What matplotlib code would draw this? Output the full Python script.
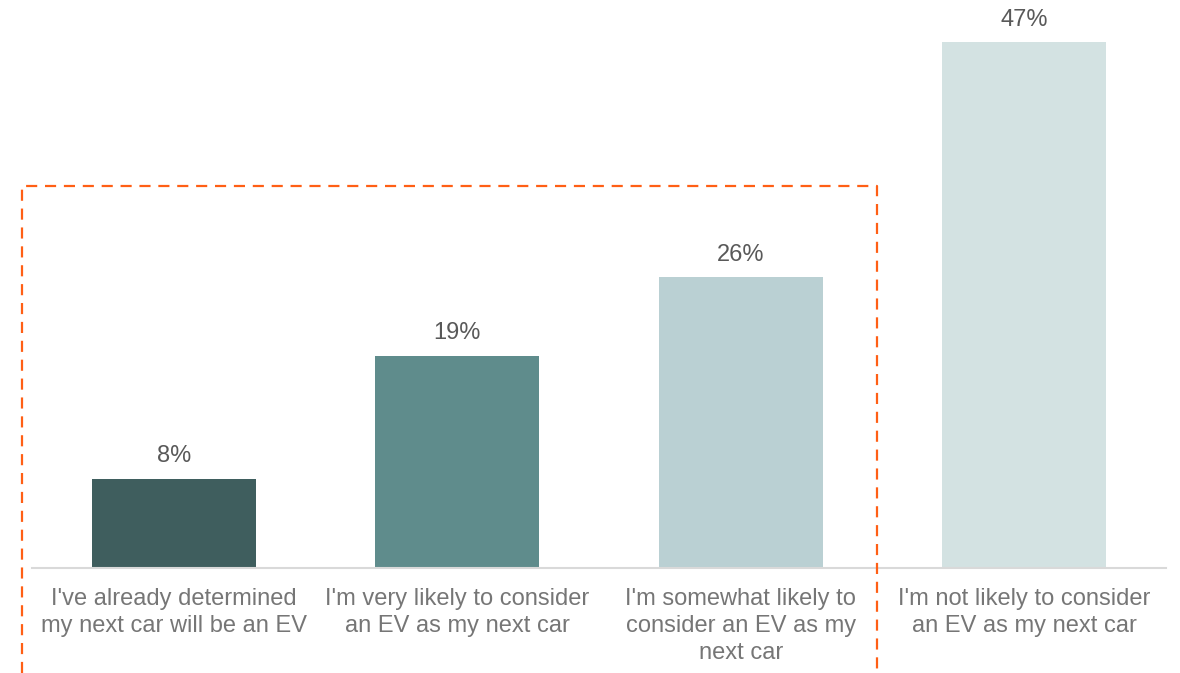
import matplotlib
matplotlib.use("Agg")
import matplotlib.pyplot as plt
from matplotlib.lines import Line2D

categories = [
    "I've already determined\nmy next car will be an EV",
    "I'm very likely to consider\nan EV as my next car",
    "I'm somewhat likely to\nconsider an EV as my\nnext car",
    "I'm not likely to consider\nan EV as my next car",
]
values = [8, 19, 26, 47]
colors = ["#3F5E5E", "#5F8C8C", "#BAD0D3", "#D3E2E2"]

plt.rcParams["font.family"] = ["Liberation Sans", "DejaVu Sans"]

W, H = 1180, 673
fig = plt.figure(figsize=(W / 100, H / 100), dpi=100)
ax = fig.add_axes([32 / W, (H - 568) / H, (1166 - 32) / W, 568 / H])

x = range(len(values))
bars = ax.bar(x, values, width=0.58, color=colors)
for b, v in zip(bars, values):
    ax.text(b.get_x() + b.get_width() / 2, v + 1.0, f"{v}%", ha="center",
            va="bottom", fontsize=17, color="#595959")

ax.set_xlim(-0.5, 3.5)
ax.set_ylim(0, 50.8)
ax.set_yticks([])
ax.set_xticks(list(x))
ax.set_xticklabels(categories, fontsize=17, color="#767676", linespacing=1.28)
ax.tick_params(axis="x", length=0, pad=14.5)
for s in ["top", "right", "left"]:
    ax.spines[s].set_visible(False)
ax.spines["bottom"].set_color("#D9D9D9")
ax.spines["bottom"].set_linewidth(1.5)

# dashed highlight around the first three groups
px = [22 / W, 22 / W, 877 / W, 877 / W]
py = [0, 1 - 186 / H, 1 - 186 / H, 0]
fig.add_artist(Line2D(px, py, transform=fig.transFigure, color="#FF5F15",
                      linewidth=1.6, linestyle=(0, (5, 3.5))))

fig.savefig("out.png", dpi=100)
